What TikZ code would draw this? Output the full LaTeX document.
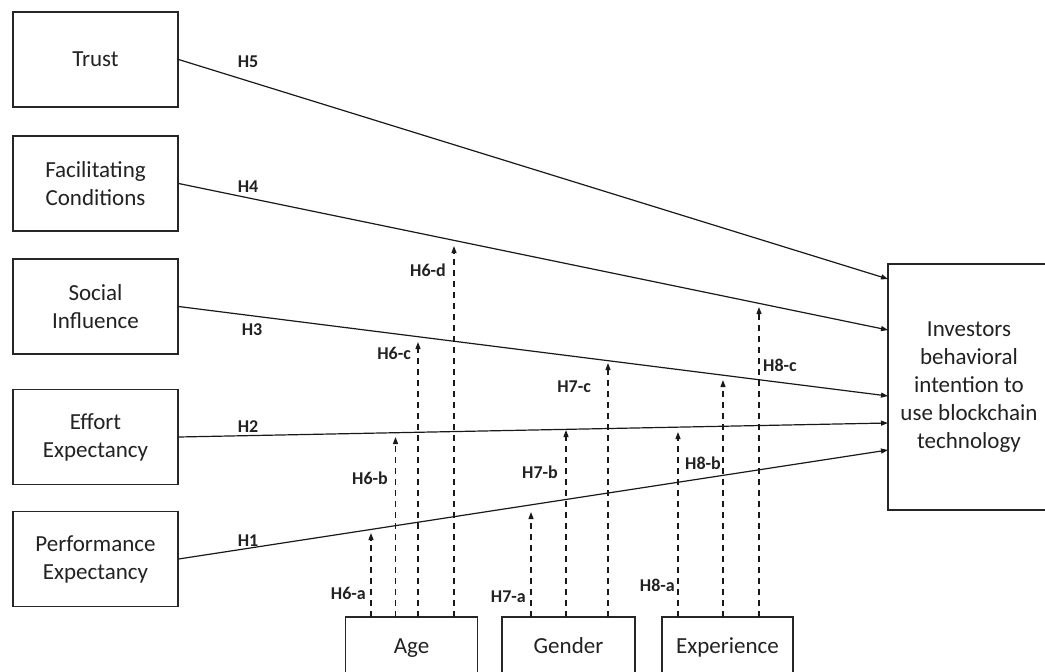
\documentclass[tikz,border=0pt]{standalone}
\usepackage{fontspec}
\setmainfont{Carlito}
\usetikzlibrary{arrows.meta}
\definecolor{txt}{HTML}{222222}
\tikzset{
  cbox/.style={draw=black!85, line width=1.2pt, minimum width=165, minimum height=95, inner sep=0pt,
    align=center, text=txt, font=\fontsize{23}{28}\selectfont},
  mbox/.style={draw=black!85, line width=1.2pt, minimum width=132, minimum height=70, inner sep=0pt,
    text=txt, font=\fontsize{23}{28}\selectfont},
  mtxt/.style={text=txt, font=\fontsize{23}{28}\selectfont, anchor=base, inner sep=0pt},
  solidarr/.style={line width=1.2pt, draw=black!90, -{Triangle[length=7pt,width=5pt]}},
  dasharr/.style={line width=1.2pt, draw=black!90, dash pattern=on 6pt off 5pt, -{Triangle[length=7pt,width=5pt]}},
  hlab/.style={font=\bfseries\fontsize{18}{20}\selectfont, text=txt, inner sep=0pt},
}
\begin{document}
\begin{tikzpicture}[x=1pt,y=-1pt]
\clip (0,0) rectangle (1045,672);
\fill[white] (0,0) rectangle (1045,672);
% left boxes
\node[cbox] (trust) at (95.5,59.5) {Trust};
\node[cbox] (fac) at (95.5,183.5) {Facilitating\\Conditions};
\node[cbox] (soc) at (95.5,306.5) {Social\\Influence};
\node[cbox] (eff) at (95.5,437) {Effort\\Expectancy};
\node[cbox] (perf) at (95.5,559) {Performance\\Expectancy};
% right box
\node[cbox, minimum width=162, minimum height=246] (inv) at (969,387) {Investors\\behavioral\\intention to\\use blockchain\\technology};
% bottom boxes
\node[mbox] (age) at (411.5,652) {};
\node[mbox, minimum width=133] (gen) at (568.5,652) {};
\node[mbox, minimum width=131] (exp) at (727.5,652) {};
\node[mtxt] (agetxt) at (411.5,653) {Age};
\node[mtxt] (gentxt) at (568.5,653) {Gender};
\node[mtxt] (exptxt) at (727.5,653) {Experience};
% target coordinates on right box
\coordinate (t5) at (888,279);
\coordinate (t4) at (888,330);
\coordinate (t3) at (888,396);
\coordinate (t2) at (888,423);
\coordinate (t1) at (888,450);
% main paths
\draw[solidarr] (trust.east) -- (t5);
\draw[solidarr] (fac.east) -- (t4);
\draw[solidarr] (soc.east) -- (t3);
\draw[solidarr] (eff.east) -- (t2);
\draw[solidarr] (perf.east) -- (t1);
\node[hlab] (h5) at (248,62) {H5};
\node[hlab] (h4) at (248,187) {H4};
\node[hlab] (h3) at (252,330) {H3};
\node[hlab] (h2) at (248,427) {H2};
\node[hlab] (h1) at (248,541) {H1};
% moderators: Age
\coordinate (a1) at (371,617); \coordinate (a1e) at (371,533);
\coordinate (a2) at (395.5,617); \coordinate (a2e) at (395.5,437);
\coordinate (a3) at (418,617); \coordinate (a3e) at (418,342);
\coordinate (a4) at (454,617); \coordinate (a4e) at (454,246);
\draw[dasharr] (a1) -- (a1e);
\draw[dasharr] (a2) -- (a2e);
\draw[dasharr] (a3) -- (a3e);
\draw[dasharr] (a4) -- (a4e);
\node[hlab, anchor=east] (h6a) at (366,593) {H6-a};
\node[hlab, anchor=east] (h6b) at (388,478) {H6-b};
\node[hlab, anchor=east] (h6c) at (411,353) {H6-c};
\node[hlab, anchor=east] (h6d) at (446,270) {H6-d};
% Gender
\coordinate (g1) at (531,617); \coordinate (g1e) at (531,512);
\coordinate (g2) at (566,617); \coordinate (g2e) at (566,430);
\coordinate (g3) at (608,617); \coordinate (g3e) at (608,363);
\draw[dasharr] (g1) -- (g1e);
\draw[dasharr] (g2) -- (g2e);
\draw[dasharr] (g3) -- (g3e);
\node[hlab, anchor=east] (h7a) at (526,597) {H7-a};
\node[hlab, anchor=east] (h7b) at (558,472) {H7-b};
\node[hlab, anchor=east] (h7c) at (591,387) {H7-c};
% Experience
\coordinate (e1) at (678,617); \coordinate (e1e) at (678,432);
\coordinate (e2) at (723,617); \coordinate (e2e) at (723,380);
\coordinate (e3) at (759,617); \coordinate (e3e) at (759,307);
\draw[dasharr] (e1) -- (e1e);
\draw[dasharr] (e2) -- (e2e);
\draw[dasharr] (e3) -- (e3e);
\node[hlab, anchor=east] (h8a) at (675,585) {H8-a};
\node[hlab, anchor=east] (h8b) at (721,463) {H8-b};
\node[hlab, anchor=west] (h8c) at (763,365) {H8-c};
\end{tikzpicture}
\end{document}
